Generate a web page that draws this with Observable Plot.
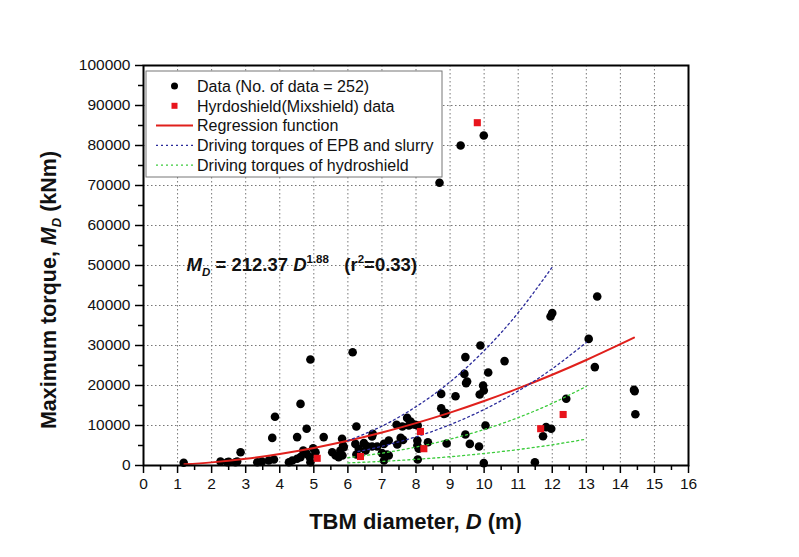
<!DOCTYPE html>
<html><head><meta charset="utf-8">
<script src="https://cdn.jsdelivr.net/npm/d3@7"></script>
<script src="https://cdn.jsdelivr.net/npm/@observablehq/plot@0.6"></script>
<style>
body{margin:0;background:#fff}
svg{font-family:"Liberation Sans",Arial,sans-serif}
</style>
</head><body><div id="chart"></div>
<script>
// ---- data ----
const dataD = [1.18,2.26,2.46,2.5,2.7,2.75,2.85,3.34,3.48,3.68,3.78,3.83,3.86,4.27,4.37,4.51,4.51,4.61,4.61,4.69,4.79,4.79,4.88,4.9,4.9,4.98,5.05,5.29,5.54,5.64,5.73,5.78,5.83,5.84,5.86,5.88,6.14,6.22,6.25,6.25,6.32,6.47,6.52,6.57,6.71,6.71,6.73,6.86,7.0,7.06,7.06,7.15,7.2,7.2,7.43,7.45,7.55,7.6,7.62,7.74,7.79,7.84,7.9,7.98,8.04,8.04,8.05,8.08,8.05,8.35,8.69,8.74,8.74,8.82,8.87,8.9,9.16,9.31,9.42,9.45,9.45,9.47,9.5,9.58,9.85,9.87,9.89,9.97,9.99,9.99,9.99,10.04,10.12,10.6,11.49,11.73,11.82,11.95,11.97,12.0,12.41,13.07,13.25,13.32,14.4,14.42,14.44];
const dataM = [700,1000,800,900,800,1000,3300,800,1000,1250,6900,1500,12200,800,1250,1700,7100,2100,15400,3750,9200,2900,2100,800,26500,4300,3300,7100,3300,2500,2100,3750,6700,2500,5000,4600,28300,5400,9750,2750,4200,5600,3750,4800,4750,7250,7900,4750,3100,5400,1250,2750,6250,2500,10200,5250,6900,9750,6400,11900,10000,11000,10300,10200,6250,5000,1500,4200,10000,5800,70700,17900,14300,12900,13100,5500,17300,80000,22900,27100,7750,20600,21000,5400,4750,17750,30000,20000,18750,82500,600,10000,23250,26100,800,7300,9600,37250,9200,38100,16700,31650,24600,42250,18900,18600,12800];
const hydroD = [5.1,6.37,8.13,8.23,9.8,11.66,12.32];
const hydroM = [1800,2250,8500,4200,85700,9200,12750];
const regD = [1.2,2,3,4,5,6,7,8,9,10,11,12,13,14,14.4];
const regM = [299,782,1675,2878,4377,6167,8240,10591,13216,16110,19273,22696,26376,30326,31962];
const epbHighD = [6,7,8,9,10,11,12];
const epbHighM = [6200,9840,14700,20900,28700,38200,49600];
const epbLowD = [6.3,7,8,9,10,11,12,13];
const epbLowM = [3500,4800,7170,10200,14000,18630,24190,30760];
const hydHighD = [6,7,8,9,10,11,12,13];
const hydHighM = [1940,3090,4610,6560,9000,11980,15550,19770];
const hydLowD = [6,7,8,9,10,11,12,13];
const hydLowM = [650,1030,1540,2190,3000,3990,5180,6590];
const xTicks = d3.range(0,17);
const xMinor = d3.range(0.5,16,1);
const yTicks = d3.range(0,100001,10000);
const yMinor = d3.range(5000,100000,10000);
const legendLabels = ["Data (No. of data = 252)","Hyrdoshield(Mixshield) data","Regression function","Driving torques of EPB and slurry","Driving torques of hydroshield"];

const tbl = (xs, ys) => xs.map((d,i) => ({D:d, M:ys[i]}));
const C = {red:"#e0201c", blue:"#2a2a9a", green:"#3ccc3c"};
const ml=143, mr=111, mt=65, mb=92, W=799, H=557;

const chart = Plot.plot({
  width: W, height: H,
  marginLeft: ml, marginRight: mr, marginTop: mt, marginBottom: mb,
  x: {domain:[0,16]},
  y: {domain:[0,100000]},
  style: {fontFamily:'"Liberation Sans",Arial,sans-serif', background:"#fff"},
  marks: [
    Plot.gridX(d3.range(1,16), {stroke:"#777", strokeOpacity:1, strokeWidth:1, strokeDasharray:"1.5,2.5"}),
    Plot.gridY(d3.range(10000,100000,10000), {stroke:"#777", strokeOpacity:1, strokeWidth:1, strokeDasharray:"1.5,2.5"}),
    Plot.axisX(xTicks, {tickSize:8, tickPadding:4, fontSize:15.5, fill:"#111", strokeWidth:1.5, tickFormat:d=>String(d), label:null}),
    Plot.axisX(xMinor, {tickSize:5, strokeWidth:1.5, tickFormat:()=>"", label:null}),
    Plot.axisY(yTicks, {tickSize:8, tickPadding:5, fontSize:15.5, fill:"#111", strokeWidth:1.5, tickFormat:d=>String(d), label:null}),
    Plot.axisY(yMinor, {tickSize:5, strokeWidth:1.5, tickFormat:()=>"", label:null}),
    Plot.dot(tbl(dataD,dataM), {x:"D", y:"M", r:4.3, fill:"#000", stroke:"none"}),
    Plot.line(tbl(regD,regM), {x:"D", y:"M", stroke:C.red, strokeWidth:2, curve:"natural"}),
    Plot.line(tbl(epbHighD,epbHighM), {x:"D", y:"M", stroke:C.blue, strokeWidth:1.3, strokeDasharray:"2,3", curve:"natural"}),
    Plot.line(tbl(epbLowD,epbLowM), {x:"D", y:"M", stroke:C.blue, strokeWidth:1.3, strokeDasharray:"2,3", curve:"natural"}),
    Plot.line(tbl(hydHighD,hydHighM), {x:"D", y:"M", stroke:C.green, strokeWidth:1.3, strokeDasharray:"2,3", curve:"natural"}),
    Plot.line(tbl(hydLowD,hydLowM), {x:"D", y:"M", stroke:C.green, strokeWidth:1.3, strokeDasharray:"2,3", curve:"natural"}),
    Plot.dot(tbl(hydroD,hydroM), {x:"D", y:"M", r:4, symbol:"square", fill:"#e8141c", stroke:"none"}),
    Plot.frame({stroke:"#000", strokeWidth:2})
  ]
});
document.getElementById("chart").appendChild(chart);

const svg = d3.select(chart);
const sx = chart.scale("x"), sy = chart.scale("y");

// Axis titles
const xt = svg.append("text").attr("x", (ml + W - mr)/2).attr("y", 529)
  .attr("text-anchor","middle").attr("font-size",22).attr("font-weight","bold").attr("fill","#111");
xt.append("tspan").text("TBM diameter, ");
xt.append("tspan").attr("font-style","italic").text("D");
xt.append("tspan").text(" (m)");

const yt = svg.append("text").attr("transform", `translate(56,${(mt + H - mb)/2 + 25}) rotate(-90)`)
  .attr("text-anchor","middle").attr("font-size",21.5).attr("font-weight","bold").attr("fill","#111");
yt.append("tspan").text("Maximum torque, ");
yt.append("tspan").attr("font-style","italic").text("M");
yt.append("tspan").attr("font-style","italic").attr("font-size",13).attr("dy",5).text("D");
yt.append("tspan").attr("dy",-5).text(" (kNm)");

// Equation annotation
const eq = svg.append("text").attr("x", sx.apply(1.28)).attr("y", sy.apply(48500))
  .attr("text-anchor","start")
  .attr("font-size",18.5).attr("font-weight","bold").attr("fill","#111").style("white-space","pre");
eq.append("tspan").attr("font-style","italic").text("M");
eq.append("tspan").attr("font-style","italic").attr("font-size",11.5).attr("dy",5).text("D");
eq.append("tspan").attr("dy",-5).text(" = 212.37 ");
eq.append("tspan").attr("font-style","italic").text("D");
eq.append("tspan").attr("font-size",11.5).attr("dy",-8).text("1.88");
eq.append("tspan").attr("dy",8).text("   (r");
eq.append("tspan").attr("font-size",11.5).attr("dy",-8).text("2");
eq.append("tspan").attr("dy",8).text("=0.33)");

// Legend
const lg = svg.append("g");
const lx = ml + 3, ly = mt + 6, lw = 296, lh = 106;
lg.append("rect").attr("x",lx).attr("y",ly).attr("width",lw).attr("height",lh)
  .attr("fill","#fff").attr("stroke","#777").attr("stroke-width",1);
const rowY = i => ly + 15 + i*19.8;
const sX0 = lx + 10, sX1 = lx + 47, sXc = (sX0+sX1)/2;
legendLabels.forEach((t,i) => {
  lg.append("text").attr("x", lx + 51).attr("y", rowY(i)).attr("dy","0.36em")
    .attr("text-anchor","start")
    .attr("font-size",16).attr("fill","#111").text(t);
});
lg.append("circle").attr("cx",sXc).attr("cy",rowY(0)).attr("r",3.5).attr("fill","#000");
lg.append("rect").attr("x",sXc-3).attr("y",rowY(1)-3).attr("width",6).attr("height",6).attr("fill","#e8141c");
lg.append("line").attr("x1",sX0).attr("x2",sX1).attr("y1",rowY(2)).attr("y2",rowY(2)).attr("stroke",C.red).attr("stroke-width",2);
lg.append("line").attr("x1",sX0).attr("x2",sX1).attr("y1",rowY(3)).attr("y2",rowY(3)).attr("stroke",C.blue).attr("stroke-width",1.3).attr("stroke-dasharray","2,3");
lg.append("line").attr("x1",sX0).attr("x2",sX1).attr("y1",rowY(4)).attr("y2",rowY(4)).attr("stroke",C.green).attr("stroke-width",1.3).attr("stroke-dasharray","2,3");
</script>
</body></html>
